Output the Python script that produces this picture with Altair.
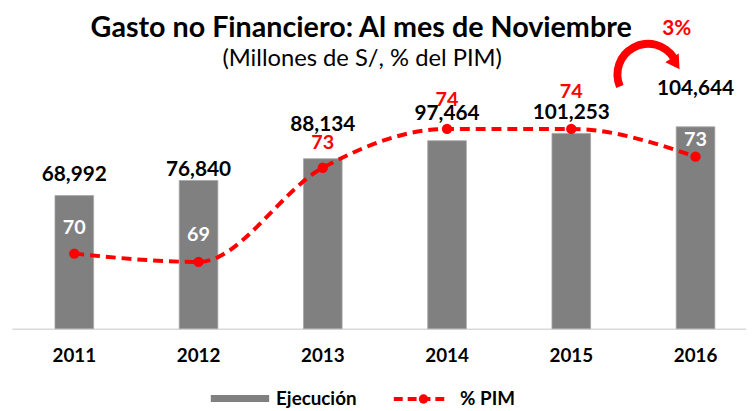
import altair as alt
import pandas as pd

# ---- data ----
years = ["2011", "2012", "2013", "2014", "2015", "2016"]
ejecucion = [68992, 76840, 88134, 97464, 101253, 104644]
pct_pim = [69.7, 69.4, 72.8, 74.2, 74.2, 73.2]

title_text = "Gasto no Financiero: Al mes de Noviembre"
subtitle_text = "(Millones de S/, % del PIM)"
growth_text = "3%"
legend_bar = "Ejecución"
legend_line = "% PIM"

df = pd.DataFrame({"year": years, "ejecucion": ejecucion, "pct": pct_pim})

FONT = "Lato"
RED = "#ff0000"
GREY = "#808080"

W, H = 742, 270

x_enc = alt.X(
    "year:N",
    sort=years,
    scale=alt.Scale(paddingInner=0.689, paddingOuter=0.2985, align=0.58),
    axis=alt.Axis(
        title=None, labelAngle=0, ticks=False, domainColor="#d9d9d9", domainWidth=1.5,
        labelFont=FONT, labelFontWeight="bold", labelFontSize=19, labelColor="#000000",
        labelPadding=18,
    ),
)

y_bar = alt.Y("ejecucion:Q", scale=alt.Scale(domain=[0, 138460], nice=False, zero=False), axis=None)
y_pct = alt.Y("pct:Q", scale=alt.Scale(domain=[66.99, 76.63], nice=False, zero=False), axis=None)

base = alt.Chart(df)

bars = base.mark_bar(color=GREY, stroke="#a6a6a6", strokeWidth=0.8).encode(x=x_enc, y=y_bar)

# value labels (lift above the bar top, in px)
value_lift = {"2011": 15, "2012": 5, "2013": 28, "2014": 21, "2015": 15, "2016": 32}
value_layers = []
for lift in sorted(set(value_lift.values())):
    ys = [y for y in years if value_lift[y] == lift]
    value_layers.append(
        base.transform_filter(alt.FieldOneOfPredicate(field="year", oneOf=ys))
        .mark_text(font=FONT, fontWeight="bold", fontSize=21, color="#000000",
                   baseline="alphabetic", dy=-lift)
        .encode(x=x_enc, y=y_bar, text=alt.Text("ejecucion:Q", format=",.0f"))
    )

line = base.mark_line(color=RED, strokeWidth=4, strokeDash=[10, 6], interpolate="monotone").encode(
    x=x_enc, y=y_pct
)
points = base.mark_circle(color=RED, size=110, opacity=1).encode(x=x_enc, y=y_pct)

pct_lift = {"2011": 20, "2012": 21, "2013": 19, "2014": 23, "2015": 31, "2016": 11}
pct_layers = []
for lift in sorted(set(pct_lift.values())):
    ys = [y for y in years if pct_lift[y] == lift]
    pct_layers.append(
        base.transform_filter(alt.FieldOneOfPredicate(field="year", oneOf=ys))
        .mark_text(font=FONT, fontWeight="bold", fontSize=20, baseline="alphabetic", dy=-lift)
        .encode(
            x=x_enc,
            y=y_pct,
            text=alt.Text("pct:Q", format=".0f"),
            color=alt.condition(
                "indexof(['2011','2012','2016'], datum.year) >= 0",
                alt.value("#ffffff"),
                alt.value(RED),
            ),
        )
    )

# ---- annotations (title, growth arrow, legend) ----
ann = alt.Chart(pd.DataFrame({"a": [0]}))

title = ann.mark_text(font=FONT, fontWeight="bold", fontSize=29, color="#000000",
                      align="center", baseline="alphabetic").encode(
    x=alt.value(353), y=alt.value(-25), text=alt.value(title_text))
subtitle = ann.mark_text(font=FONT, fontSize=24, color="#000000",
                         align="center", baseline="alphabetic").encode(
    x=alt.value(354), y=alt.value(4), text=alt.value(subtitle_text))

arc = ann.mark_arc(color=RED).encode(
    x=alt.value(643), y=alt.value(13),
    theta=alt.value(4.31), theta2=alt.value(7.28),
    radius=alt.value(35), radius2=alt.value(27),
)
head = ann.mark_point(shape="triangle-up", filled=True, color=RED, opacity=1, size=260, angle=147).encode(
    x=alt.value(671), y=alt.value(2))
growth = ann.mark_text(font=FONT, fontWeight="bold", fontSize=21, color=RED,
                       align="center", baseline="alphabetic").encode(
    x=alt.value(672), y=alt.value(-27), text=alt.value(growth_text))

leg_rect = ann.mark_rect(color=GREY).encode(
    x=alt.value(201), x2=alt.value(260), y=alt.value(337), y2=alt.value(344))
leg_text1 = ann.mark_text(font=FONT, fontWeight="bold", fontSize=19, color="#000000",
                          align="left", baseline="alphabetic").encode(
    x=alt.value(267), y=alt.value(347), text=alt.value(legend_bar))
leg_line = ann.mark_rule(color=RED, strokeWidth=4, strokeDash=[9, 5]).encode(
    x=alt.value(386), x2=alt.value(440), y=alt.value(341))
leg_pt = ann.mark_circle(color=RED, size=90, opacity=1).encode(x=alt.value(416), y=alt.value(341))
leg_text2 = ann.mark_text(font=FONT, fontWeight="bold", fontSize=19, color="#000000",
                          align="left", baseline="alphabetic").encode(
    x=alt.value(453), y=alt.value(347), text=alt.value(legend_line))

chart = (
    alt.layer(
        bars, *value_layers, line, points, *pct_layers,
        title, subtitle, arc, head, growth,
        leg_rect, leg_text1, leg_line, leg_pt, leg_text2,
    )
    .resolve_scale(y="independent")
    .properties(
        width=W, height=H,
        autosize=alt.AutoSizeParams(type="none"),
        padding={"left": 4, "top": 52, "right": 0, "bottom": 81},
        background="#ffffff",
    )
    .configure_view(stroke=None)
)

chart.save("out.html", embed_options={"renderer": "svg", "actions": False})
